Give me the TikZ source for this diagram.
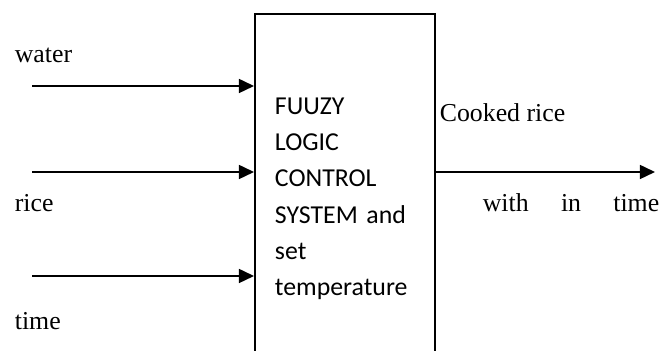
\documentclass[tikz,border=0pt]{standalone}
\usepackage{fontspec}
\setmainfont{Liberation Serif}
\newfontfamily\boxfont{Carlito}
\usetikzlibrary{positioning,arrows.meta}

\begin{document}
\begin{tikzpicture}[x=0.465pt, y=-0.465pt, line width=0.8pt,
    sig/.style={-{Triangle[length=7pt,width=6.5pt]}},
    tag/.style={anchor=base west, inner sep=0pt, font=\fontsize{12}{14}\selectfont}]
    \useasboundingbox (0,0) rectangle (671,351);
    \clip (0,0) rectangle (671,351);
    \node [draw, rectangle, anchor=north west, minimum width=83.7pt, minimum height=172pt, inner xsep=9.3pt, text width=65pt, align=left, font=\boxfont\fontsize{12}{16.9}\selectfont] (FLC) at (254,13) {FUUZY\\ LOGIC\\ CONTROL\\ SYSTEM and\\ set\\ temperature};
    \coordinate (Win) at (32,86);
    \coordinate (Rin) at (32,172);
    \coordinate (Tin) at (32,276);
    \coordinate (Out) at (655,172);
    \draw [sig] (Win) -- (Win -| FLC.west);
    \draw [sig] (Rin) -- (Rin -| FLC.west);
    \draw [sig] (Tin) -- (Tin -| FLC.west);
    \draw [sig] (FLC.east |- Out) -- (Out);
    \node [tag] (water) at (14,63) {water};
    \node [tag] (rice) at (14,212) {rice};
    \node [tag] (time) at (14,330) {time};
    \node [tag] (cooked) at (439,122) {Cooked rice};
    \node [tag] (within) at (482,212) {with\hspace{15pt}in\hspace{15pt}time};
\end{tikzpicture}
\end{document}
